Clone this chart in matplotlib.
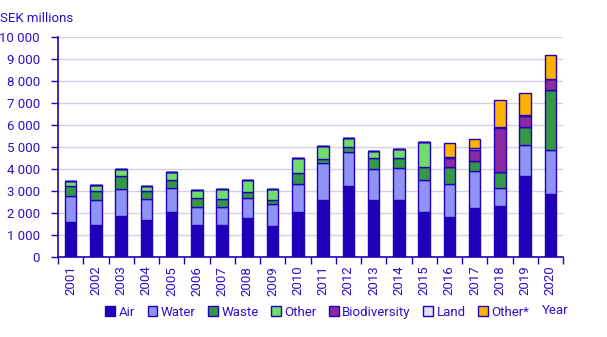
import matplotlib
matplotlib.use("Agg")
import matplotlib.pyplot as plt
import numpy as np
from matplotlib.ticker import FuncFormatter, MultipleLocator

years = [str(y) for y in range(2001, 2021)]

# values in SEK millions
air = [1600, 1470, 1880, 1700, 2060, 1470, 1470, 1790, 1420, 2060,
       2610, 3240, 2610, 2600, 2050, 1820, 2230, 2330, 3700, 2880]
water = [1170, 1120, 1210, 940, 1080, 800, 800, 890, 990, 1260,
         1660, 1530, 1390, 1450, 1450, 1500, 1680, 810, 1390, 1980]
waste = [460, 410, 590, 360, 360, 410, 370, 270, 180, 500,
         180, 230, 500, 450, 620, 800, 480, 720, 820, 2730]
other = [220, 270, 320, 230, 360, 370, 450, 550, 500, 680,
         600, 410, 320, 410, 1110, 0, 0, 0, 0, 0]
biodiversity = [0, 0, 0, 0, 0, 0, 0, 0, 0, 0,
                0, 0, 0, 0, 0, 400, 470, 2000, 510, 500]
land = [0, 0, 0, 0, 0, 0, 0, 0, 0, 0,
        0, 0, 0, 0, 0, 30, 90, 50, 30, 30]
other_star = [0, 0, 0, 0, 0, 0, 0, 0, 0, 0,
              0, 0, 0, 0, 0, 650, 410, 1230, 1000, 1060]

series = [
    ("Air", air, "#1f00b8"),
    ("Water", water, "#8e93f4"),
    ("Waste", waste, "#339944"),
    ("Other", other, "#6edd6a"),
    ("Biodiversity", biodiversity, "#8b2aa1"),
    ("Land", land, "#e8def6"),
    ("Other*", other_star, "#ffb100"),
]

TEXT = "#2a10c8"
EDGE = "#2200bb"

plt.rcParams["font.family"] = ["Roboto", "DejaVu Sans"]

fig = plt.figure(figsize=(6.07, 3.37), dpi=100)
ax = fig.add_axes([0.0956, 0.2365, 0.832, 0.6528])

x = np.arange(len(years))
bottom = np.zeros(len(years))
for name, vals, color in series:
    vals = np.array(vals, dtype=float)
    ax.bar(x, vals, bottom=bottom, width=0.45, color=color, edgecolor=EDGE,
           linewidth=1.0, label=name, zorder=3)
    bottom += vals

ax.set_xlim(-0.5, len(years) - 0.5)
ax.set_ylim(0, 10000)
ax.yaxis.set_major_locator(MultipleLocator(1000))
ax.yaxis.set_major_formatter(FuncFormatter(lambda v, p: f"{int(v):,}".replace(",", " ")))
ax.grid(axis="y", color="#d4d0e8", linewidth=1.0, zorder=0)

ax.set_xticks(x)
ax.set_xticklabels(years, rotation=90)
ax.set_xticks(np.arange(-0.5, len(years), 1.0), minor=True)
ax.tick_params(axis="x", which="major", length=0, pad=6, labelsize=9.5, colors=TEXT)
ax.tick_params(axis="x", which="minor", length=5, width=1, color=EDGE)
ax.tick_params(axis="y", length=5, width=1, color=EDGE, labelsize=9.5, labelcolor=TEXT, pad=8)

for side in ("top", "right"):
    ax.spines[side].set_visible(False)
for side in ("left", "bottom"):
    ax.spines[side].set_color(EDGE)
    ax.spines[side].set_linewidth(1.2)

fig.text(0.0, 0.946, "SEK millions", color=TEXT, fontsize=9.5, va="center", ha="left")
fig.text(0.892, 0.08, "Year", color=TEXT, fontsize=9.5, va="center", ha="left")

handles, labels = ax.get_legend_handles_labels()
fig.legend(handles, labels, loc="center left", bbox_to_anchor=(0.165, 0.073),
           ncol=7, frameon=False, fontsize=9.5, handlelength=0.75, handleheight=0.75,
           handletextpad=0.25, columnspacing=0.95, labelcolor=TEXT, borderaxespad=0)

fig.savefig("out.png", dpi=100)
